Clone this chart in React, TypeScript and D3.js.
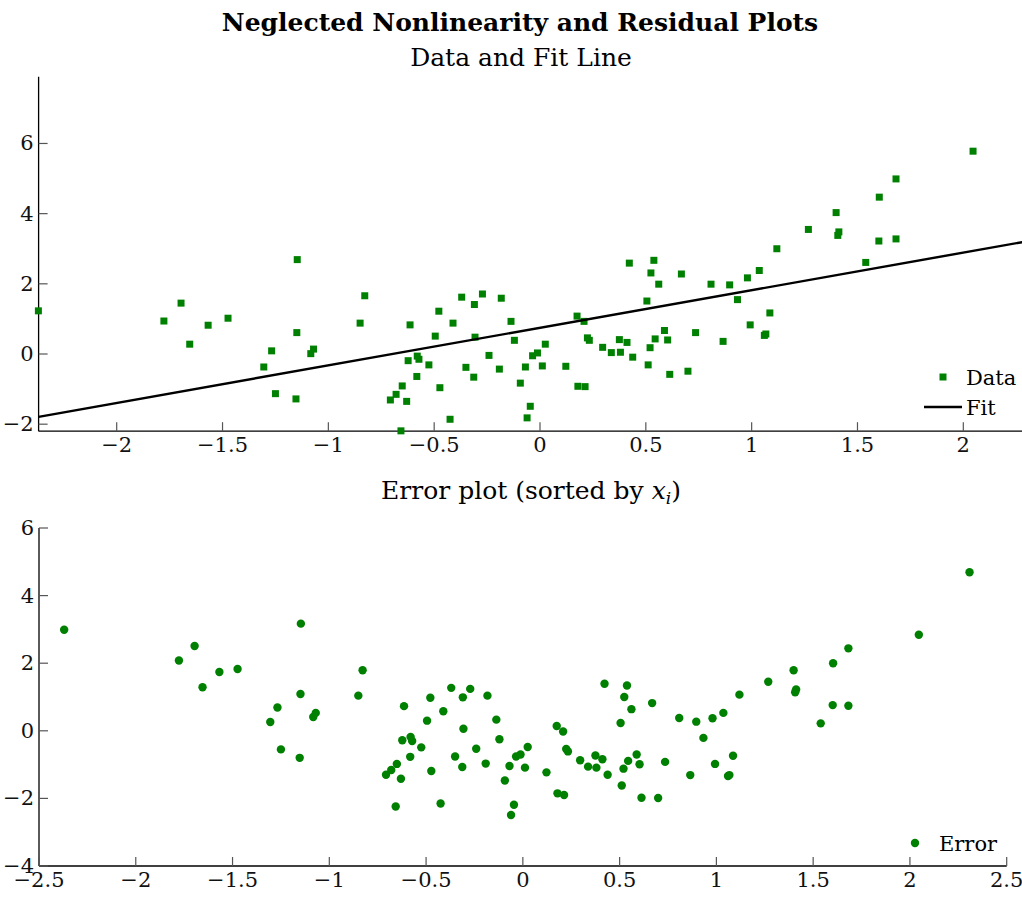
import React from 'react';
import * as d3 from 'd3';

const xs = [
  -2.37, -1.777, -1.696, -1.655, -1.568, -1.474, -1.305, -1.268, -1.25, -1.147,
  -1.149, -1.153, -1.083, -1.07, -0.85, -0.828, -0.614, -0.623, -0.58, -0.572,
  -0.582, -0.651, -0.68, -0.707, -0.63, -0.657, -0.525, -0.495, -0.478, -0.473,
  -0.425, -0.411, -0.37, -0.35, -0.31, -0.307, -0.313, -0.272, -0.241, -0.183,
  -0.192, -0.137, -0.121, -0.093, -0.069, -0.046, -0.061, -0.035, -0.012, 0.011,
  0.025, 0.122, 0.175, 0.208, 0.179, 0.213, 0.224, 0.233, 0.296, 0.337,
  0.375, 0.38, 0.411, 0.422, 0.438, 0.505, 0.511, 0.52, 0.524, 0.538,
  0.561, 0.544, 0.588, 0.603, 0.613, 0.668, 0.699, 0.735, 0.808, 0.865,
  0.896, 0.933, 0.98, 0.993, 1.036, 1.06, 1.067, 1.086, 1.119, 1.268,
  1.399, 1.412, 1.407, 1.539, 1.601, 1.603, 1.682, 1.682, 2.046, 2.308,
];

const ys = [
  1.23, 0.94, 1.45, 0.28, 0.82, 1.02, -0.37, 0.09, -1.13, 2.69,
  0.61, -1.28, 0.01, 0.14, 0.88, 1.66, 0.83, -0.19, -0.06, -0.15,
  -0.64, -0.91, -1.15, -1.31, -1.35, -2.19, -0.31, 0.51, 1.22, -0.96,
  -1.86, 0.88, 1.62, -0.38, 1.41, 0.48, -0.66, 1.71, -0.04, 1.59,
  -0.43, 0.93, 0.39, -0.83, -0.37, -1.49, -1.82, -0.05, 0.03, -0.34,
  0.28, -0.35, 1.08, 0.93, -0.92, -0.93, 0.46, 0.39, 0.19, 0.04,
  0.41, 0.05, 0.33, 2.59, -0.09, 1.51, -0.31, 0.18, 2.31, 2.67,
  1.99, 0.43, 0.67, 0.4, -0.58, 2.28, -0.49, 0.61, 1.99, 0.36,
  1.97, 1.55, 2.17, 0.83, 2.38, 0.53, 0.57, 1.17, 3.0, 3.55,
  4.03, 3.48, 3.38, 2.61, 3.22, 4.47, 4.99, 3.28, 5.78, 7.9,
];

const errs = [
  2.99, 2.08, 2.51, 1.29, 1.74, 1.83, 0.26, 0.69, -0.55, 3.17,
  1.09, -0.8, 0.41, 0.53, 1.04, 1.79, 0.73, -0.28, -0.18, -0.3,
  -0.77, -0.98, -1.16, -1.3, -1.42, -2.24, -0.49, 0.3, 0.98, -1.19,
  -2.15, 0.58, 1.27, -0.76, 0.99, 0.06, -1.07, 1.24, -0.53, 1.04,
  -0.97, 0.33, -0.25, -1.47, -1.04, -2.19, -2.49, -0.76, -0.7, -1.09,
  -0.48, -1.23, 0.14, -0.02, -1.85, -1.9, -0.54, -0.61, -0.87, -1.06,
  -0.73, -1.09, -0.84, 1.39, -1.3, 0.23, -1.62, -1.12, 1.0, 1.34,
  0.64, -0.89, -0.7, -0.99, -1.98, 0.82, -1.99, -0.92, 0.38, -1.31,
  0.27, -0.21, 0.37, -0.98, 0.53, -1.34, -1.31, -0.74, 1.07, 1.45,
  1.79, 1.22, 1.14, 0.22, 0.76, 2.0, 2.44, 0.74, 2.84, 4.69,
];

// fit line end points
const fitX = [-2.369, 2.308];
const fitY = [-1.79, 3.22];

const topXTicks = [-2, -1.5, -1, -0.5, 0, 0.5, 1, 1.5, 2];
const topYTicks = [-2, 0, 2, 4, 6];
const botXTicks = [-2.5, -2, -1.5, -1, -0.5, 0, 0.5, 1, 1.5, 2, 2.5];
const botYTicks = [-4, -2, 0, 2, 4, 6];

const W = 1022;
const H = 897;
const GREEN = '#008000';
const FONT = '"DejaVu Serif", "Liberation Serif", serif';
const fmt = (v: number) => String(v).replace('-', '\u2212');

interface AxesProps {
  x: d3.ScaleLinear<number, number>;
  y: d3.ScaleLinear<number, number>;
  xTicks: number[];
  yTicks: number[];
  xEnd: number;
}

const Axes: React.FC<AxesProps> = ({ x, y, xTicks, yTicks, xEnd }) => {
  const [y0] = y.range();
  const [x0] = x.range();
  const yTop = y.range()[1];
  const tick = 9;
  return (
    <g fontFamily={FONT} fontSize={21} fill="#111">
      <line x1={x0} x2={xEnd} y1={y0} y2={y0} stroke="#000" strokeWidth={1.3} />
      <line x1={x0} x2={x0} y1={y0} y2={yTop} stroke="#000" strokeWidth={1.3} />
      {xTicks.map(t => (
        <g key={'x' + t}>
          <line x1={x(t)} x2={x(t)} y1={y0} y2={y0 - tick} stroke="#555" strokeWidth={1.2} />
          <text x={x(t)} y={y0 + 21} textAnchor="middle">{fmt(t)}</text>
        </g>
      ))}
      {yTicks.map(t => (
        <g key={'y' + t}>
          <line x1={x0} x2={x0 + tick} y1={y(t)} y2={y(t)} stroke="#555" strokeWidth={1.2} />
          <text x={x0 - 5} y={y(t) + 7} textAnchor="end">{fmt(t)}</text>
        </g>
      ))}
    </g>
  );
};

const App: React.FC = () => {
  // top panel scales
  const xTop = d3.scaleLinear().domain([-2.369, 2.308]).range([38.6, 1028.5]);
  const yTop = d3.scaleLinear().domain([-2.2, 7.9]).range([431.2, 76.8]);
  // bottom panel scales
  const xBot = d3.scaleLinear().domain([-2.5, 2.5]).range([39, 1006.7]);
  const yBot = d3.scaleLinear().domain([-4, 6]).range([866, 528]);

  const fitLine = d3.line<number>()
    .x(d => xTop(d))
    .y((_, i) => yTop(fitY[i]));

  const sq = 7;

  return (
    <div style={{ position: 'absolute', left: 0, top: 0 }}>
      <svg width={W} height={H} style={{ display: 'block', background: '#fff' }}>
        <text x={520} y={31} textAnchor="middle" fontFamily={FONT} fontWeight="bold" fontSize={25}>
          Neglected Nonlinearity and Residual Plots
        </text>
        <text x={521} y={66} textAnchor="middle" fontFamily={FONT} fontSize={25}>
          Data and Fit Line
        </text>

        <Axes x={xTop} y={yTop} xTicks={topXTicks} yTicks={topYTicks} xEnd={W} />
        <g fill={GREEN}>
          {xs.map((d, i) => (
            <rect key={i} x={xTop(d) - sq / 2} y={yTop(ys[i]) - sq / 2} width={sq} height={sq} />
          ))}
        </g>
        <path d={fitLine(fitX) || ''} fill="none" stroke="#000" strokeWidth={2.4} />

        {/* top legend */}
        <g fontFamily={FONT} fontSize={21}>
          <rect x={943 - sq / 2} y={377 - sq / 2} width={sq} height={sq} fill={GREEN} />
          <text x={966} y={385}>Data</text>
          <line x1={924} x2={962} y1={407} y2={407} stroke="#000" strokeWidth={2.4} />
          <text x={966} y={415}>Fit</text>
        </g>

        <text x={531} y={499} textAnchor="middle" fontFamily={FONT} fontSize={25}>
          Error plot (sorted by <tspan fontStyle="italic">x</tspan>
          <tspan fontStyle="italic" fontSize={17} dy={5}>i</tspan>
          <tspan dy={-5}>)</tspan>
        </text>

        <Axes x={xBot} y={yBot} xTicks={botXTicks} yTicks={botYTicks} xEnd={1006.7} />
        <g fill={GREEN}>
          {xs.map((d, i) => (
            <circle key={i} cx={xBot(d)} cy={yBot(errs[i])} r={4.2} />
          ))}
        </g>

        {/* bottom legend */}
        <g fontFamily={FONT} fontSize={21}>
          <circle cx={915} cy={843} r={4.2} fill={GREEN} />
          <text x={939} y={851}>Error</text>
        </g>
      </svg>
    </div>
  );
};

export default App;
